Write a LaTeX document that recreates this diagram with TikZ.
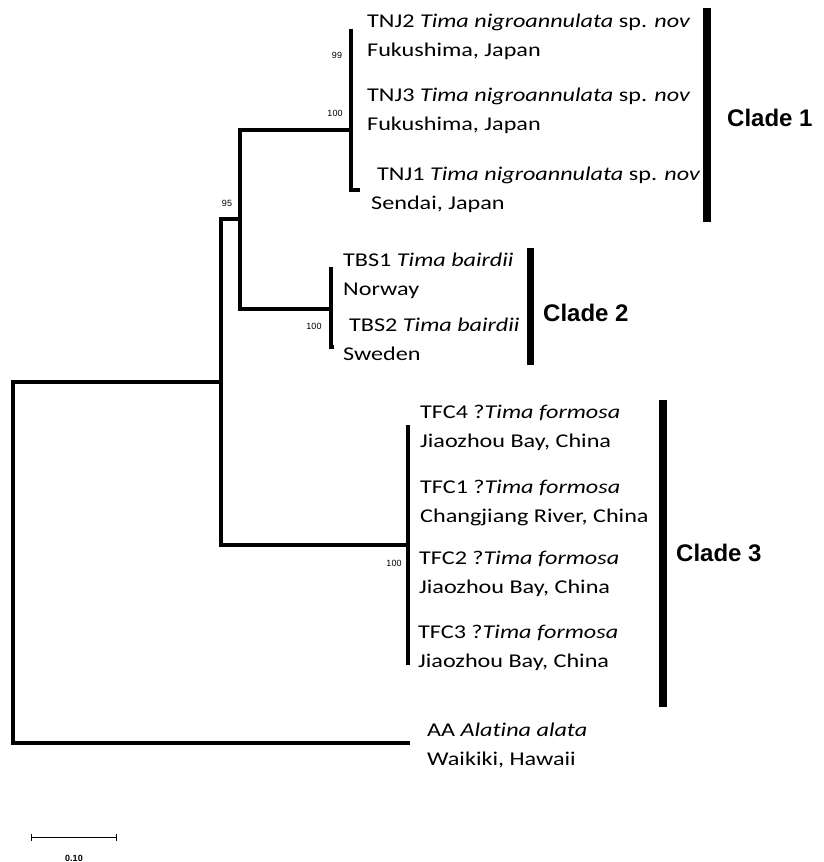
\documentclass[tikz,border=0pt]{standalone}
\usepackage{fontspec}
\setmainfont{Carlito}
\newfontfamily\taxfont[FakeStretch=1.24,Ligatures=NoCommon]{Carlito}
\newfontfamily\arialfont{Liberation Sans}
\usetikzlibrary{arrows.meta}

\begin{document}
\begin{tikzpicture}[x=1pt,y=-1pt,
		branch/.style={line width=4pt},
		taxon/.style={anchor=base west,inner sep=0pt,align=left,font=\taxfont\fontsize{19.5}{28.5}\selectfont},
		boot/.style={inner sep=0pt,font=\arialfont\fontsize{9}{9}\selectfont},
		cladebar/.style={line width=7.5pt},
		cladelabel/.style={anchor=west,inner sep=0pt,font=\arialfont\bfseries\fontsize{24}{24}\selectfont}]
		\useasboundingbox (0,0) rectangle (823,862);
		
		% internal nodes and tips
		\coordinate (root) at (13,562);
		\coordinate (ingroup) at (221,382);
		\coordinate (n95) at (240,219);
		\coordinate (c1) at (351,130);
		\coordinate (c1a) at (351,70);
		\coordinate (tnj2) at (351,29);
		\coordinate (tnj3) at (351,110);
		\coordinate (tnj1) at (360,190);
		\coordinate (c2) at (331,309);
		\coordinate (tbs1) at (331,267);
		\coordinate (tbs2) at (334,347);
		\coordinate (c3) at (408,545);
		\coordinate (tfc4) at (408,425);
		\coordinate (tfc3) at (408,665);
		\coordinate (aa) at (410,743);
		
		\draw[branch] (root) |- (ingroup);
		\draw[branch] (root) |- (aa);
		\draw[branch] (ingroup) |- (n95);
		\draw[branch] (ingroup) |- (c3);
		\draw[branch] (n95) |- (c1);
		\draw[branch] (n95) |- (c2);
		\draw[branch] (c1) -- (c1a) (c1a) -- (tnj2) (c1a) -- (tnj3);
		\draw[branch] (c1) |- (tnj1);
		\draw[branch] (c2) -- (tbs1) (c2) |- (tbs2);
		\draw[branch] (tfc4) -- (tfc3);
		
		% labels sit on the baseline of their second line
		\node[taxon] (lTNJ2) at (367,56) {TNJ2 \textit{Tima nigroannulata} sp. \textit{nov}\\Fukushima, Japan};
		\node[taxon] (lTNJ3) at (367,130) {TNJ3 \textit{Tima nigroannulata} sp. \textit{nov}\\Fukushima, Japan};
		\node[taxon] (lTNJ1) at (371,209) {\hspace*{6pt}TNJ1 \textit{Tima nigroannulata} sp. \textit{nov}\\Sendai, Japan};
		\node[taxon] (lTBS1) at (343,295) {TBS1 \textit{Tima bairdii}\\Norway};
		\node[taxon] (lTBS2) at (343,360) {\hspace*{6pt}TBS2 \textit{Tima bairdii}\\Sweden};
		\node[taxon] (lTFC4) at (420,447) {TFC4 ?\textit{Tima formosa}\\Jiaozhou Bay, China};
		\node[taxon] (lTFC1) at (420,522) {TFC1 ?\textit{Tima formosa}\\Changjiang River, China};
		\node[taxon] (lTFC2) at (419,593) {TFC2 ?\textit{Tima formosa}\\Jiaozhou Bay, China};
		\node[taxon] (lTFC3) at (418,667) {TFC3 ?\textit{Tima formosa}\\Jiaozhou Bay, China};
		\node[taxon] (lAA) at (427,765) {AA \textit{Alatina alata}\\Waikiki, Hawaii};
		
		% bootstrap values
		\node[boot] (b99) at (337,55) {99};
		\node[boot] (b100a) at (335,113) {100};
		\node[boot] (b95) at (227,203) {95};
		\node[boot] (b100b) at (314,326) {100};
		\node[boot] (b100c) at (394,563) {100};
		
		% clades
		\draw[cladebar] (707,8) -- (707,222);
		\draw[cladebar] (530.5,248) -- (530.5,365);
		\draw[cladebar] (663,400) -- (663,707);
		\node[cladelabel] (clade1) at (727,118) {Clade 1};
		\node[cladelabel] (clade2) at (543,313) {Clade 2};
		\node[cladelabel] (clade3) at (676,553) {Clade 3};
		
		% scale
		\coordinate (s0) at (31,837);
		\coordinate (s1) at (117,837);
		\draw[line width=1pt, {Bar[width=7pt]}-{Bar[width=7pt]}] (s0) -- (s1);
		\node[boot, font=\arialfont\bfseries\fontsize{9}{9}\selectfont] (scalelabel) at (74,858) {0.10};
\end{tikzpicture}
\end{document}
